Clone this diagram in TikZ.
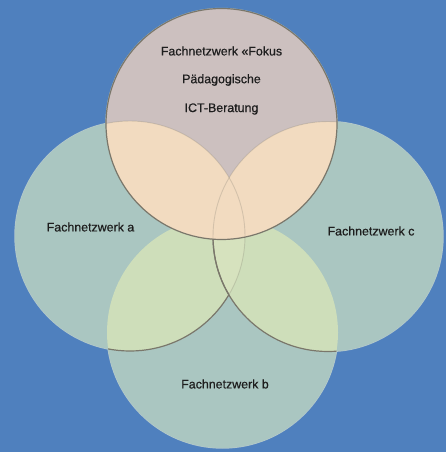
\documentclass[tikz,border=0pt]{standalone}
\usepackage{fontspec}
\setmainfont{Liberation Sans}
\newfontfamily\lblfont[FakeBold=0.6]{Liberation Sans}
\definecolor{bgblue}{HTML}{4F80BE}
\definecolor{mauve}{HTML}{CCC0BF}
\definecolor{tealc}{HTML}{AAC6C1}
\definecolor{peach}{HTML}{F2DBC0}
\definecolor{paleg}{HTML}{CEDEBA}
\definecolor{paleg2}{HTML}{D6E2BE}
\definecolor{edge}{HTML}{7A776B}
\definecolor{rimc}{HTML}{B4C8CC}
\definecolor{txt}{HTML}{1E1E1E}
\begin{document}
\begin{tikzpicture}[x=1pt,y=-1pt,
  lbl/.style={font=\lblfont\fontsize{12.4}{14}\selectfont, text=txt, inner sep=0pt},
  dark/.style={draw=edge, line width=1.2pt},
  faint/.style={draw=edge, line width=0.9pt, draw opacity=0.25},
  rim/.style={draw=rimc, line width=1.4pt}]
\fill[bgblue] (0,0) rectangle (446,452);
\useasboundingbox (0,0) rectangle (446,452);
\coordinate (T) at (221.5,124);
\coordinate (L) at (130,236);
\coordinate (R) at (328,236.5);
\coordinate (B) at (222.5,332.5);
% outer light rims
\draw[rim] (T) circle[radius=115.5pt];
\draw[rim] (L) circle[radius=115pt];
\draw[rim] (R) circle[radius=115pt];
\draw[rim] (B) circle[radius=115.5pt];
% bottom
\fill[tealc] (B) circle[radius=115.5pt];
% left
\fill[tealc] (L) circle[radius=115pt];
\begin{scope}
  \clip (L) circle[radius=115pt];
  \fill[paleg] (B) circle[radius=115.5pt];
\end{scope}
\begin{scope}
  \clip (B) circle[radius=115.5pt];
  \draw[dark] (L) circle[radius=115pt];
\end{scope}
% right
\fill[tealc] (R) circle[radius=115pt];
\begin{scope}
  \clip (R) circle[radius=115pt];
  \fill[paleg] (B) circle[radius=115.5pt];
\end{scope}
\begin{scope}
  \clip (R) circle[radius=115pt];
  \clip (L) circle[radius=115pt];
  \fill[paleg2] (B) circle[radius=115.5pt];
\end{scope}
\begin{scope}
  \clip (R) circle[radius=115pt];
  \draw[faint] (L) circle[radius=115pt];
\end{scope}
\begin{scope}
  \clip (B) circle[radius=115.5pt];
  \draw[dark] (R) circle[radius=115pt];
\end{scope}
\begin{scope}
  \clip (L) circle[radius=115pt];
  \draw[dark] (R) circle[radius=115pt];
\end{scope}
% top
\fill[mauve] (T) circle[radius=115.5pt];
\begin{scope}
  \clip (T) circle[radius=115.5pt];
  \fill[peach] (L) circle[radius=115pt];
  \fill[peach] (R) circle[radius=115pt];
  \fill[peach] (B) circle[radius=115.5pt];
  \draw[faint] (L) circle[radius=115pt];
  \draw[faint] (R) circle[radius=115pt];
\end{scope}
\draw[dark] (T) circle[radius=115.5pt];
% labels
\node[lbl] (t1) at (221.5,51) {Fachnetzwerk «Fokus};
\node[lbl] (t2) at (221.5,80) {Pädagogische};
\node[lbl] (t3) at (221.5,109) {ICT-Beratung};
\node[lbl] (la) at (90.5,227) {Fachnetzwerk a};
\node[lbl] (lc) at (371,231) {Fachnetzwerk c};
\node[lbl] (lb) at (225,384) {Fachnetzwerk b};
\end{tikzpicture}
\end{document}
